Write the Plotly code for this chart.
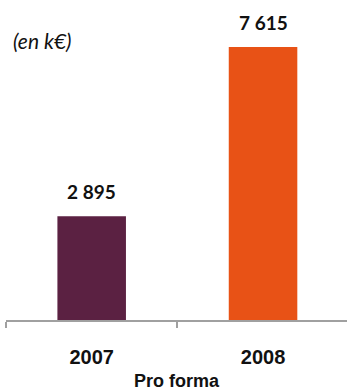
import plotly.graph_objects as go

categories = ["2007", "2008"]
values = [2895, 7615]
value_labels = ["2 895", "7 615"]
colors = ["#5B2142", "#E85216"]

fig = go.Figure()
fig.add_trace(go.Bar(
    x=categories, y=values, marker=dict(color=colors, line=dict(width=0)),
    width=0.4, showlegend=False, hoverinfo="skip",
))
for i, (v, t) in enumerate(zip(values, value_labels)):
    fig.add_annotation(x=i, y=v, text="<b>" + t + "</b>", showarrow=False,
                       yanchor="bottom", yshift=11,
                       font=dict(family="Lato, Open Sans, sans-serif", size=19, color="#111111"))

fig.add_annotation(x=0.016, y=0.875, xref="paper", yref="paper", xanchor="left", yanchor="middle",
                   text="<i>(en k€)</i>", showarrow=False,
                   font=dict(family="Lato, Open Sans, sans-serif", size=21, color="#111111"))

fig.update_layout(
    width=347, height=391,
    margin=dict(l=6, r=0, t=0, b=71),
    plot_bgcolor="white", paper_bgcolor="white",
    xaxis=dict(
        type="category", range=[-0.5, 1.49], showline=True, linecolor="#A0A0A0", linewidth=2,
        ticks="outside", ticklen=6, tickcolor="#A0A0A0", tickwidth=2,
        tickson="boundaries", showgrid=False,
        tickmode="array", tickvals=categories, ticktext=["<b>" + c + "</b>" for c in categories],
        tickfont=dict(family="Liberation Sans, Arial, sans-serif", size=20, color="#111111"),
        ticklabelstandoff=18,
        title=dict(text="<b>Pro forma</b>", standoff=11,
                   font=dict(family="Liberation Sans, Arial, sans-serif", size=18, color="#111111")),
    ),
    yaxis=dict(range=[0, 8926], visible=False, showgrid=False),
)
fig.write_html("out.html")
